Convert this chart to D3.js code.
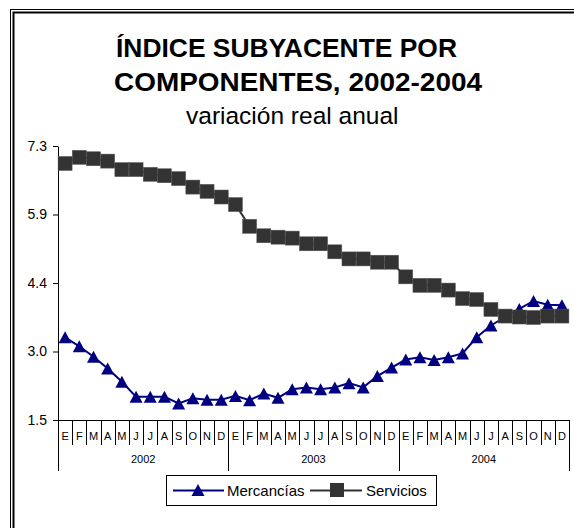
<!DOCTYPE html>
<html>
<head>
<meta charset="utf-8">
<script src="https://cdn.jsdelivr.net/npm/d3@7"></script>
<style>
  html, body { margin: 0; padding: 0; background: #fff; }
  svg { display: block; font-family: "Liberation Sans", Arial, sans-serif; }
</style>
</head>
<body>
<svg id="chart" width="574" height="528"></svg>
<script>
const monthLabels = ["E","F","M","A","M","J","J","A","S","O","N","D"];
const years = ["2002","2003","2004"];
const mercancias = [3.25,3.06,2.84,2.59,2.31,1.99,1.99,1.99,1.85,1.96,1.93,1.93,
                    2.01,1.92,2.06,1.97,2.15,2.19,2.15,2.19,2.28,2.19,2.43,2.61,
                    2.78,2.83,2.77,2.83,2.91,3.25,3.50,3.68,3.85,4.02,3.94,3.93];
const servicios = [6.93,7.06,7.03,6.98,6.80,6.80,6.70,6.67,6.61,6.43,6.34,6.22,
                   6.06,5.60,5.40,5.37,5.35,5.23,5.23,5.06,4.91,4.91,4.84,4.84,
                   4.53,4.35,4.35,4.25,4.07,4.05,3.84,3.70,3.68,3.67,3.70,3.70];
const yTickValues = [1.5, 2.95, 4.4, 5.85, 7.3];
const yTickLabels = ["1.5","3.0","4.4","5.9","7.3"];
const seriesNames = ["Mercancías","Servicios"];

const svg = d3.select("#chart");
svg.append("rect").attr("width",574).attr("height",528).attr("fill","#fff");

// double frame
svg.append("rect").attr("x",10.5).attr("y",9.5).attr("width",700).attr("height",700)
  .attr("fill","none").attr("stroke","#000").attr("stroke-width",1);
svg.append("rect").attr("x",13.5).attr("y",12.5).attr("width",700).attr("height",700)
  .attr("fill","none").attr("stroke","#000").attr("stroke-width",2);

// titles
svg.append("text").attr("x",116).attr("y",57)
  .attr("font-size",26).attr("font-weight","bold")
  .attr("textLength",341).attr("lengthAdjust","spacingAndGlyphs")
  .text("ÍNDICE SUBYACENTE POR");
svg.append("text").attr("x",114).attr("y",91)
  .attr("font-size",26).attr("font-weight","bold")
  .attr("textLength",368).attr("lengthAdjust","spacingAndGlyphs")
  .text("COMPONENTES, 2002-2004");
svg.append("text").attr("x",186).attr("y",124)
  .attr("font-size",24.5).text("variación real anual");

const idx = d3.range(mercancias.length);
const x = d3.scaleBand().domain(idx).range([58, 569]).padding(0);
const y = d3.scaleLinear().domain([1.5, 7.3]).range([420, 146]);
const cx = i => x(i) + x.bandwidth()/2;

// y axis
const yAxis = d3.axisLeft(y).tickValues(yTickValues)
  .tickFormat((d,i) => yTickLabels[i]).tickSize(5).tickSizeOuter(0);
const gy = svg.append("g").attr("transform","translate(58,0)").call(yAxis);
gy.select(".domain").attr("stroke","#000");
gy.selectAll("text").attr("font-size",14).attr("font-family","Liberation Sans, Arial, sans-serif")
  .attr("fill","#000").attr("x",-11);

// x axis line
svg.append("line").attr("x1",58).attr("x2",569).attr("y1",420.5).attr("y2",420.5)
  .attr("stroke","#000");

// month ticks
const bounds = d3.range(mercancias.length + 1);
svg.append("g").selectAll("line").data(bounds).join("line")
  .attr("x1", i => Math.round(i < idx.length ? x(i) : x(idx.length-1)+x.bandwidth()) + 0.5)
  .attr("x2", i => Math.round(i < idx.length ? x(i) : x(idx.length-1)+x.bandwidth()) + 0.5)
  .attr("y1",420).attr("y2", i => i % 12 === 0 ? 471 : 445)
  .attr("stroke","#000").attr("stroke-width",1);

svg.append("g").selectAll("text").data(idx).join("text")
  .attr("x", i => cx(i)).attr("y",440).attr("text-anchor","middle")
  .attr("font-size",11).text(i => monthLabels[i % 12]);

svg.append("g").selectAll("text").data(years).join("text")
  .attr("x",(d,k) => (x(k*12) + x(k*12+11) + x.bandwidth())/2).attr("y",463)
  .attr("text-anchor","middle").attr("font-size",11).text(d => d);

// series
const triPath = "M0,-6L6.5,6L-6.5,6Z";
const line = d3.line().x((d,i) => cx(i)).y(d => y(d));

const gM = svg.append("g");
gM.append("path").datum(mercancias).attr("d",line).attr("fill","none")
  .attr("stroke","#000080").attr("stroke-width",2);
gM.selectAll("path.m").data(mercancias).join("path").attr("class","m")
  .attr("d",triPath).attr("transform",(d,i)=>`translate(${cx(i)},${y(d)})`)
  .attr("fill","#000080");

const gS = svg.append("g");
gS.append("path").datum(servicios).attr("d",line).attr("fill","none")
  .attr("stroke","#333333").attr("stroke-width",2);
gS.selectAll("rect").data(servicios).join("rect")
  .attr("x",(d,i)=>cx(i)-7).attr("y",d=>y(d)-7).attr("width",14).attr("height",14)
  .attr("fill","#333333").attr("stroke","#555").attr("stroke-width",0.5);

// legend
const lg = svg.append("g");
lg.append("rect").attr("x",166.5).attr("y",475.5).attr("width",270).attr("height",30)
  .attr("fill","#fff").attr("stroke","#000").attr("stroke-width",1);
lg.append("line").attr("x1",173).attr("x2",224).attr("y1",490.5).attr("y2",490.5)
  .attr("stroke","#000080").attr("stroke-width",2);
lg.append("path").attr("d",triPath).attr("transform","translate(198,490)").attr("fill","#000080");
lg.append("text").attr("x",227).attr("y",496).attr("font-size",15).text(seriesNames[0]);
lg.append("line").attr("x1",310).attr("x2",362).attr("y1",490.5).attr("y2",490.5)
  .attr("stroke","#333").attr("stroke-width",2);
lg.append("rect").attr("x",330).attr("y",483).attr("width",14).attr("height",14).attr("fill","#333");
lg.append("text").attr("x",366).attr("y",496).attr("font-size",15).text(seriesNames[1]);
</script>
</body>
</html>
